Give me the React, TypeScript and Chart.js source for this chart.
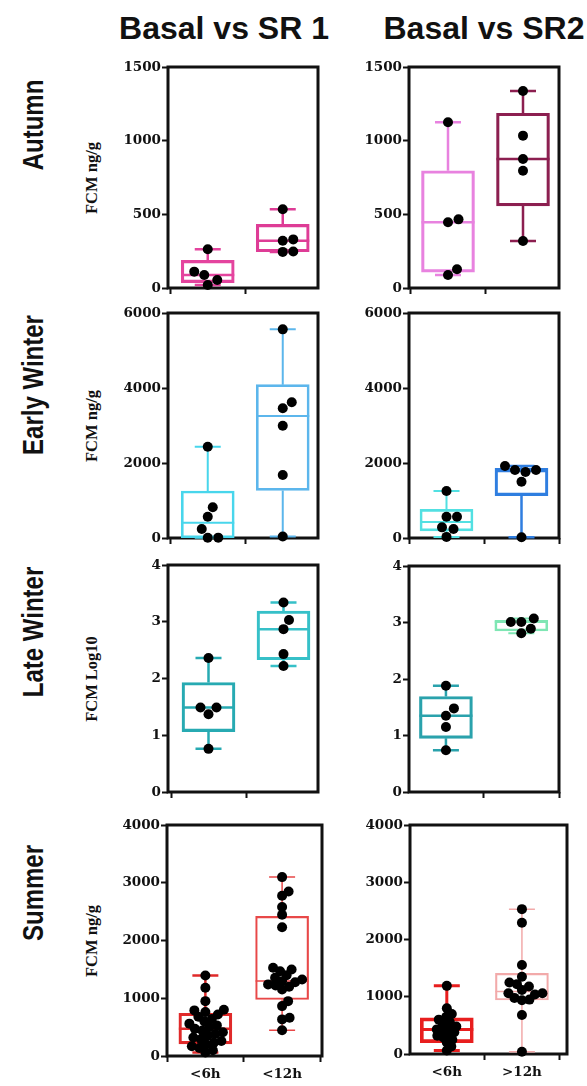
import React, { useEffect, useRef } from "react";
import { Chart, registerables } from "chart.js";

Chart.register(...registerables);

// ---- Group labels on the x axis ----
const sr1Groups = ["<6h", "<12h"];
const sr2Groups = ["<6h", ">12h"];

// ---- Column and row headings ----
const columnTitles = ["Basal vs SR 1", "Basal vs SR2"];
const seasons = ["Autumn", "Early Winter", "Late Winter", "Summer"];
const yTitles = ["FCM ng/g", "FCM ng/g", "FCM Log10", "FCM ng/g"];

// ---- Y tick values per season ----
const autumnTicks = [0, 500, 1000, 1500];
const earlyWinterTicks = [0, 2000, 4000, 6000];
const lateWinterTicks = [0, 1, 2, 3, 4];
const summerTicks = [0, 1000, 2000, 3000, 4000];

// ---- Individual samples; box stats are [min, q1, median, q3, max] ----
const autumnSr1Short = [263, 111, 88, 54, 20];
const autumnSr1Long = [534, 330, 321, 248, 245];
const autumnSr1Boxes = [
  [20, 37, 88, 187, 263],
  [245, 246, 321, 432, 534],
];

const autumnSr2Short = [1125, 466, 446, 127, 88];
const autumnSr2Long = [1337, 1034, 876, 796, 319];
const autumnSr2Boxes = [
  [88, 108, 446, 796, 1125],
  [319, 557, 876, 1186, 1337],
];

const earlyWinterSr1Short = [2435, 818, 569, 240, 10, 5];
const earlyWinterSr1Long = [5564, 3618, 3458, 2995, 1680, 40];
const earlyWinterSr1Boxes = [
  [5, 5, 404, 1253, 2435],
  [40, 1270, 3253, 4090, 5564],
];

const earlyWinterSr2Short = [1253, 569, 569, 284, 240, 30];
const earlyWinterSr2Long = [1920, 1813, 1813, 1760, 1500, 20];
const earlyWinterSr2Boxes = [
  [30, 190, 427, 765, 1253],
  [20, 1129, 1786, 1860, 1920],
];

const lateWinterSr1Short = [2.36, 1.49, 1.49, 1.37, 0.76];
const lateWinterSr1Long = [3.34, 3.03, 2.87, 2.43, 2.22];
const lateWinterSr1Boxes = [
  [0.76, 1.065, 1.49, 1.93, 2.36],
  [2.22, 2.33, 2.87, 3.19, 3.34],
];

const lateWinterSr2Short = [1.88, 1.48, 1.35, 1.15, 0.74];
const lateWinterSr2Long = [3.07, 3.01, 3.01, 2.89, 2.81];
const lateWinterSr2Boxes = [
  [0.74, 0.95, 1.35, 1.69, 1.88],
  [2.81, 2.85, 3.01, 3.04, 3.07],
];

const summerSr1Short = [
  1394, 1181, 950, 800, 790, 760, 720, 680, 640, 600, 560, 530, 500, 470,
  440, 410, 380, 350, 320, 290, 260, 230, 200, 170, 140, 100, 60,
];
const summerSr1Long = [
  3098, 2850, 2775, 2580, 2447, 2228, 1527, 1497, 1468, 1400, 1354, 1325,
  1295, 1278, 1240, 1220, 1200, 1150, 950, 864, 663, 634, 445,
];
const summerSr1Boxes = [
  [60, 210, 470, 740, 1394],
  [445, 979, 1300, 2418, 3098],
];

const summerSr2Short = [
  1190, 800, 700, 650, 600, 560, 520, 480, 460, 430, 400, 380, 350, 320, 290,
  250, 200, 130, 60,
];
const summerSr2Long = [
  2530, 2293, 1555, 1350, 1250, 1220, 1180, 1120, 1060, 1060, 1040, 980, 950,
  940, 681, 40,
];
const summerSr2Boxes = [
  [60, 200, 430, 630, 1190],
  [40, 943, 1090, 1409, 2530],
];

// ---- Drawing constants ----
const PAD_L = 60;
const PAD_T = 12;
const PAD_R = 12;
const BOX_W = 53;
const CAP_HALF = 13;
const DOT_R = 5;

type Group = { values: number[]; box: number[]; color: string; lineWidth: number; gap: number };
type PanelSpec = {
  left: number;
  top: number;
  right: number;
  bottom: number;
  padB: number;
  xMin: number;
  xMax: number;
  ticks: number[];
  xLabels: string[] | null;
  groups: Group[];
};

const panels: PanelSpec[] = [
  {
    left: 168, top: 67, right: 318, bottom: 288, padB: 30, xMin: -0.53, xMax: 1.47,
    ticks: autumnTicks, xLabels: null,
    groups: [
      { values: autumnSr1Short, box: autumnSr1Boxes[0], color: "#e4449e", lineWidth: 2.5, gap: 10.5 },
      { values: autumnSr1Long, box: autumnSr1Boxes[1], color: "#de3c96", lineWidth: 2.5, gap: 10.5 },
    ],
  },
  {
    left: 409, top: 67, right: 559, bottom: 288, padB: 30, xMin: -0.52, xMax: 1.48,
    ticks: autumnTicks, xLabels: null,
    groups: [
      { values: autumnSr2Short, box: autumnSr2Boxes[0], color: "#e882df", lineWidth: 2.5, gap: 10.5 },
      { values: autumnSr2Long, box: autumnSr2Boxes[1], color: "#8c1f50", lineWidth: 2.5, gap: 10.5 },
    ],
  },
  {
    left: 168, top: 313, right: 318, bottom: 538, padB: 30, xMin: -0.53, xMax: 1.47,
    ticks: earlyWinterTicks, xLabels: null,
    groups: [
      { values: earlyWinterSr1Short, box: earlyWinterSr1Boxes[0], color: "#48d6ec", lineWidth: 2, gap: 10.5 },
      { values: earlyWinterSr1Long, box: earlyWinterSr1Boxes[1], color: "#5cb6ec", lineWidth: 2, gap: 10.5 },
    ],
  },
  {
    left: 409, top: 313, right: 559, bottom: 538, padB: 30, xMin: -0.5, xMax: 1.5,
    ticks: earlyWinterTicks, xLabels: null,
    groups: [
      { values: earlyWinterSr2Short, box: earlyWinterSr2Boxes[0], color: "#52e0e2", lineWidth: 2, gap: 10.5 },
      { values: earlyWinterSr2Long, box: earlyWinterSr2Boxes[1], color: "#2f7ee0", lineWidth: 2.5, gap: 10.5 },
    ],
  },
  {
    left: 168, top: 565, right: 318, bottom: 792, padB: 30, xMin: -0.54, xMax: 1.46,
    ticks: lateWinterTicks, xLabels: null,
    groups: [
      { values: lateWinterSr1Short, box: lateWinterSr1Boxes[0], color: "#27aab2", lineWidth: 2.5, gap: 10.5 },
      { values: lateWinterSr1Long, box: lateWinterSr1Boxes[1], color: "#36c0c8", lineWidth: 2.5, gap: 10.5 },
    ],
  },
  {
    left: 409, top: 566, right: 559, bottom: 792, padB: 30, xMin: -0.49, xMax: 1.5,
    ticks: lateWinterTicks, xLabels: null,
    groups: [
      { values: lateWinterSr2Short, box: lateWinterSr2Boxes[0], color: "#2aa2ac", lineWidth: 2.5, gap: 10.5 },
      { values: lateWinterSr2Long, box: lateWinterSr2Boxes[1], color: "#7fe6b4", lineWidth: 2, gap: 10.5 },
    ],
  },
  {
    left: 167, top: 825, right: 322, bottom: 1056, padB: 28, xMin: -0.5, xMax: 1.52,
    ticks: summerTicks, xLabels: sr1Groups,
    groups: [
      { values: summerSr1Short, box: summerSr1Boxes[0], color: "#e02a2a", lineWidth: 2.5, gap: 7.5 },
      { values: summerSr1Long, box: summerSr1Boxes[1], color: "#e84848", lineWidth: 1.5, gap: 7.5 },
    ],
  },
  {
    left: 410, top: 825, right: 567, bottom: 1054, padB: 28, xMin: -0.49, xMax: 1.6,
    ticks: summerTicks, xLabels: sr2Groups,
    groups: [
      { values: summerSr2Short, box: summerSr2Boxes[0], color: "#e81e1e", lineWidth: 3, gap: 6 },
      { values: summerSr2Long, box: summerSr2Boxes[1], color: "#f2aaaa", lineWidth: 1.5, gap: 7.5 },
    ],
  },
];

// Spread dots of one group sideways (in pixels) so they don't sit on top of each other.
function swarm(ys: number[], gap: number): number[] {
  const order = ys.map((_, i) => i).sort((a, b) => ys[b] - ys[a]);
  const placed: { x: number; y: number }[] = [];
  const out = new Array(ys.length).fill(0);
  for (const i of order) {
    const y = ys[i];
    let pos = 0;
    for (let k = 0; k < 600; k++) {
      const cand = k === 0 ? 0 : (k % 2 ? 1 : -1) * Math.ceil(k / 2) * 0.5;
      if (placed.every((p) => Math.hypot(p.x - cand, p.y - y) >= gap)) {
        pos = cand;
        break;
      }
    }
    placed.push({ x: pos, y });
    out[i] = pos;
  }
  return out;
}

const SERIF = "'Liberation Serif', 'Times New Roman', serif";
const TICK_SERIF = "'DejaVu Serif', 'Liberation Serif', serif";
const SANS = "'Liberation Sans', Arial, sans-serif";

function Panel({ spec }: { spec: PanelSpec }) {
  const ref = useRef<HTMLCanvasElement>(null);

  useEffect(() => {
    const canvas = ref.current;
    if (!canvas) return;
    const points = spec.groups.flatMap((g, gi) => g.values.map((v) => ({ x: gi, y: v })));
    const boxes = spec.groups.map((g, gi) => ({ x: gi, y: [g.box[1], g.box[3]] }));
    const yMax = spec.ticks[spec.ticks.length - 1];
    const yStep = spec.ticks[1] - spec.ticks[0];

    const frame = {
      id: "frame",
      beforeDatasetsDraw(chart: any) {
        const { ctx, chartArea: a } = chart;
        ctx.save();
        ctx.strokeStyle = "#111";
        ctx.lineWidth = 3;
        ctx.strokeRect(a.left, a.top, a.right - a.left, a.bottom - a.top);
        ctx.restore();
      },
    };

    const whiskers = {
      id: "whiskers",
      afterDatasetDraw(chart: any, args: any) {
        if (args.index !== 1) return;
        const { ctx } = chart;
        const xs = chart.scales.x;
        const ys = chart.scales.y;
        spec.groups.forEach((g, gi) => {
          const [mn, q1, md, q3, mx] = g.box.map((v) => ys.getPixelForValue(v));
          const cx = xs.getPixelForValue(gi);
          ctx.save();
          ctx.strokeStyle = g.color;
          ctx.lineWidth = g.lineWidth;
          ctx.beginPath();
          ctx.moveTo(cx, q3);
          ctx.lineTo(cx, mx);
          ctx.moveTo(cx, q1);
          ctx.lineTo(cx, mn);
          ctx.moveTo(cx - CAP_HALF, mx);
          ctx.lineTo(cx + CAP_HALF, mx);
          ctx.moveTo(cx - CAP_HALF, mn);
          ctx.lineTo(cx + CAP_HALF, mn);
          ctx.moveTo(cx - BOX_W / 2, md);
          ctx.lineTo(cx + BOX_W / 2, md);
          ctx.stroke();
          ctx.restore();
        });
      },
    };

    const tickFont = { family: TICK_SERIF, size: 13.5, weight: "bold" as const };
    const tickGrid = {
      display: true,
      drawOnChartArea: false,
      drawTicks: true,
      tickLength: 6,
      tickWidth: 2,
      tickColor: "#111",
      color: "#111",
    };

    const chart = new Chart(canvas, {
      type: "bar",
      data: {
        datasets: [
          {
            type: "scatter",
            data: points,
            pointRadius: DOT_R,
            pointHoverRadius: DOT_R,
            backgroundColor: "#000",
            borderColor: "#000",
            borderWidth: 0,
            order: 0,
            clip: false,
          } as any,
          {
            type: "bar",
            data: boxes as any,
            backgroundColor: "rgba(0,0,0,0)",
            borderColor: spec.groups.map((g) => g.color),
            borderWidth: spec.groups.map((g) => g.lineWidth),
            borderSkipped: false,
            barThickness: BOX_W,
            grouped: false,
            order: 1,
          } as any,
        ],
      },
      options: {
        animation: false,
        responsive: false,
        maintainAspectRatio: false,
        events: [],
        layout: { autoPadding: false, padding: { left: 0, top: PAD_T, right: PAD_R, bottom: 0 } },
        plugins: { legend: { display: false }, tooltip: { enabled: false }, title: { display: false } },
        scales: {
          x: {
            type: "linear",
            offset: false,
            min: spec.xMin,
            max: spec.xMax,
            afterBuildTicks: (axis: any) => {
              axis.ticks = spec.groups.map((_, i) => ({ value: i }));
            },
            afterFit: (axis: any) => {
              axis.height = spec.padB;
            },
            ticks: {
              font: tickFont,
              color: "#111",
              padding: 4,
              maxRotation: 0,
              autoSkip: false,
              callback: (v: any) => (spec.xLabels ? spec.xLabels[Math.round(Number(v))] : ""),
            },
            grid: tickGrid,
            border: { display: false },
          },
          y: {
            type: "linear",
            min: 0,
            max: yMax,
            afterFit: (axis: any) => {
              axis.width = PAD_L;
            },
            ticks: {
              stepSize: yStep,
              font: tickFont,
              color: "#111",
              padding: 1,
              callback: (v: any) => String(v),
            },
            grid: tickGrid,
            border: { display: false },
          },
        },
      },
      plugins: [frame, whiskers],
    });

    // Lay the dots out as a swarm, using the chart's own scales to go between values and pixels.
    const xs: any = chart.scales.x;
    const ys: any = chart.scales.y;
    const unit = xs.getPixelForValue(1) - xs.getPixelForValue(0);
    const swarmed: { x: number; y: number }[] = [];
    spec.groups.forEach((g, gi) => {
      const offs = swarm(g.values.map((v) => ys.getPixelForValue(v)), g.gap);
      g.values.forEach((v, i) => swarmed.push({ x: gi + offs[i] / unit, y: v }));
    });
    chart.data.datasets[0].data = swarmed as any;
    chart.update("none");

    return () => chart.destroy();
  }, [spec]);

  const w = spec.right - spec.left + PAD_L + PAD_R;
  const h = spec.bottom - spec.top + PAD_T + spec.padB;
  return (
    <canvas
      ref={ref}
      width={w}
      height={h}
      style={{ position: "absolute", left: spec.left - PAD_L, top: spec.top - PAD_T, width: w, height: h }}
    />
  );
}

function Rotated({
  text, cx, cy, font, size, weight, squeeze,
}: { text: string; cx: number; cy: number; font: string; size: number; weight: number; squeeze: number }) {
  return (
    <div
      style={{
        position: "absolute",
        left: cx,
        top: cy,
        transform: `translate(-50%, -50%) rotate(-90deg) scaleX(${squeeze})`,
        fontFamily: font,
        fontSize: size,
        fontWeight: weight,
        lineHeight: 1,
        whiteSpace: "nowrap",
        color: "#111",
      }}
    >
      {text}
    </div>
  );
}

export default function App() {
  const rowCenters = panels
    .filter((_, i) => i % 2 === 0)
    .map((p) => (p.top + p.bottom) / 2);
  const seasonCenters = [125, 385, 632, 893];
  const titleCenters = [224, 484];

  return (
    <div style={{ position: "absolute", left: 0, top: 0, width: 587, height: 1086, overflow: "hidden", background: "#fff" }}>
      {columnTitles.map((t, i) => (
        <div
          key={t}
          style={{
            position: "absolute",
            left: titleCenters[i],
            top: 12,
            transform: "translateX(-50%)",
            fontFamily: SANS,
            fontWeight: 700,
            fontSize: 32,
            lineHeight: 1,
            whiteSpace: "nowrap",
            color: "#111",
          }}
        >
          {t}
        </div>
      ))}
      {seasons.map((s, i) => (
        <Rotated key={s} text={s} cx={33} cy={seasonCenters[i]} font={SANS} size={30} weight={700} squeeze={0.8} />
      ))}
      {yTitles.map((t, i) => (
        <Rotated key={i} text={t} cx={92} cy={rowCenters[i]} font={SERIF} size={16.5} weight={700} squeeze={1} />
      ))}
      {panels.map((p, i) => (
        <Panel key={i} spec={p} />
      ))}
    </div>
  );
}
